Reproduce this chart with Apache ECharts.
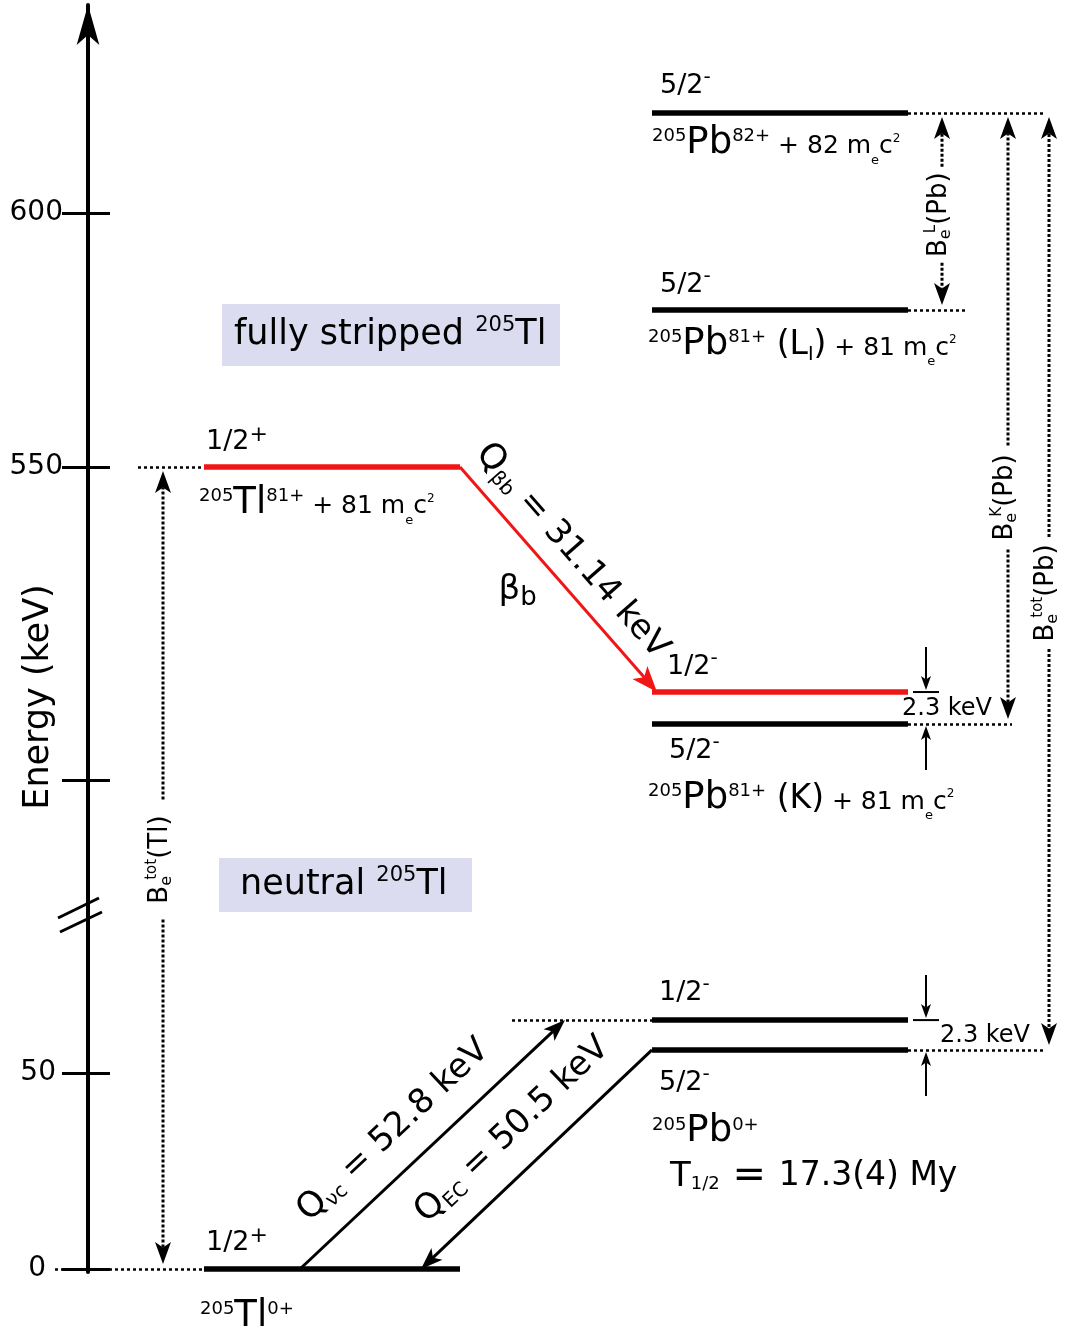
<!DOCTYPE html>
<html lang="en">
<head>
<meta charset="utf-8">
<title>205Tl bound-state beta decay level scheme</title>
<script src="https://cdn.jsdelivr.net/npm/echarts@6/dist/echarts.min.js"></script>
<style>
  html, body { margin: 0; padding: 0; background: #ffffff; }
  #chart { width: 1070px; height: 1328px; }
</style>
</head>
<body>
<div id="chart"></div>
<script>
// ---------------- data ----------------
// Energy levels, placed on the broken energy axis (keV)
const levelIds      = ['Pb82', 'Pb81L', 'Tl81', 'Pb81K_12', 'Pb81K_52', 'Pb0_12', 'Pb0_52', 'Tl0'];
const levelEnergies = [619.7, 580.9, 550.0, 505.7, 499.4, 63.5, 55.9, 0.0];
const levelSpins    = ['5/2-', '5/2-', '1/2+', '1/2-', '5/2-', '1/2-', '5/2-', '1/2+'];
const levelAxisPart = ['upper', 'upper', 'upper', 'upper', 'upper', 'lower', 'lower', 'lower'];
const levelNuclide  = ['Pb', 'Pb', 'Tl', 'Pb', 'Pb', 'Pb', 'Pb', 'Tl'];
const boundBetaPath = ['Tl81', 'Pb81K_12'];          // bound-state beta decay path

// Ion / atom captions under the levels
const massNumber   = '205';
const ionLevel     = ['Pb82', 'Pb81L', 'Tl81', 'Pb81K_52', 'Pb0_52', 'Tl0'];
const ionElement   = ['Pb', 'Pb', 'Tl', 'Pb', 'Pb', 'Tl'];
const ionCharge    = ['82+', '81+', '81+', '81+', '0+', '0+'];
const ionShell     = ['', 'L', '', 'K', '', ''];
const ionElectrons = [82, 81, 81, 81, 0, 0];        // "+ n m_e c^2" term

// Q values (keV)
const transitionNames = ['βb', 'νc', 'EC'];
const transitionQ     = [31.14, 52.8, 50.5];
const doubletSplitting = 2.3;                        // keV, 1/2- above 5/2-
const halfLife = '17.3(4) My';

// Energy axis ticks (two segments of a broken axis)
const upperTickLabels = [550, 600];
const upperTicks      = [488.4, 550, 600];
const lowerTickLabels = [0, 50];
const lowerTicks      = [0, 50];
const UPPER_RANGE = [461.81, 640.94];
const LOWER_RANGE = [-0.765, 90.31];

// ---------------- layout & style ----------------
const FONT = 'DejaVu Sans';
const INK = '#000000';
const RED = '#f01616';
const PANEL = '#dcdcf0';
const AXIS_LEFT = 88;
const CANVAS_W = 1070;
const UPPER_GRID = { top: 5, height: 910 };
const LOWER_GRID = { top: 915, height: 357 };
const COLUMN = { Tl: [204, 460], Pb: [652, 908] };
const GUIDE = { Pb82: [908, 1045], Pb81L: [908, 965], Tl81: [138, 204], Pb81K_52: [908, 1012],
                Pb0_12: [512, 652], Pb0_52: [908, 1045], Tl0: [55, 204] };
const SPIN_OFFSET = { Pb82: [8, -27], Pb81L: [8, -25], Tl81: [2, -25], Pb81K_12: [15, -25],
                      Pb81K_52: [17, 27], Pb0_12: [7, -27], Pb0_52: [7, 33], Tl0: [2, -26] };
const ION_OFFSET = { Pb82: [0, 30], Pb81L: [-4, 34], Tl81: [-5, 36], Pb81K_52: [-4, 74],
                     Pb0_52: [0, 82], Tl0: [-4, 47] };

const chart = echarts.init(document.getElementById('chart'), null, { renderer: 'canvas' });

const axisRef = part => part === 'upper' ? { xAxisIndex: 0, yAxisIndex: 0 } : { xAxisIndex: 1, yAxisIndex: 2 };
const levelIdx = id => levelIds.indexOf(id);

function levelSeries(part) {
  const data = [];
  levelIds.forEach((id, i) => {
    if (levelAxisPart[i] !== part) return;
    const c = COLUMN[levelNuclide[i]];
    data.push({ name: id, coords: [[c[0], levelEnergies[i]], [c[1], levelEnergies[i]]],
      lineStyle: { color: boundBetaPath.indexOf(id) >= 0 ? RED : INK } });
  });
  return Object.assign({ type: 'lines', coordinateSystem: 'cartesian2d', clip: false, silent: true, z: 4,
    symbol: ['none', 'none'], lineStyle: { width: 5.5, opacity: 1, curveness: 0 }, data }, axisRef(part));
}

function guideSeries(part) {
  const data = [];
  levelIds.forEach((id, i) => {
    if (levelAxisPart[i] !== part || !GUIDE[id]) return;
    data.push({ name: id, coords: [[GUIDE[id][0], levelEnergies[i]], [GUIDE[id][1], levelEnergies[i]]] });
  });
  return Object.assign({ type: 'lines', coordinateSystem: 'cartesian2d', clip: false, silent: true, z: 3,
    symbol: ['none', 'none'], lineStyle: { color: INK, width: 2.5, type: [3, 3], opacity: 1, curveness: 0 }, data }, axisRef(part));
}

function yMain(grid, range, ticks, labels, arrow, margin) {
  return {
    gridIndex: grid, type: 'value', position: 'left', min: range[0], max: range[1],
    axisLine: { show: true, onZero: false, lineStyle: { color: INK, width: 4 },
      symbol: arrow ? ['none', 'arrow'] : ['none', 'none'], symbolSize: [17, 40] },
    axisTick: { show: true, inside: false, length: 26, lineStyle: { color: INK, width: 3 }, customValues: ticks },
    axisLabel: {
      show: true, customValues: labels, margin: margin,
      formatter: v => (v === 0 ? '{o|0}' : '{n|' + v + '}'),
      rich: {
        o: { fontFamily: FONT, fontSize: 28, color: INK, padding: [0, 10, 0, 0] },
        n: { fontFamily: FONT, fontSize: 28, color: INK }
      }
    },
    splitLine: { show: false }
  };
}
function yInner(grid, range, ticks) {
  return {
    gridIndex: grid, type: 'value', position: 'left', min: range[0], max: range[1],
    axisLine: { show: false, onZero: false },
    axisTick: { show: true, inside: true, length: 22, lineStyle: { color: INK, width: 3 }, customValues: ticks },
    axisLabel: { show: false }, splitLine: { show: false }
  };
}

chart.setOption({
  animation: false,
  backgroundColor: '#ffffff',
  grid: [
    { left: AXIS_LEFT, right: 0, top: UPPER_GRID.top, height: UPPER_GRID.height, containLabel: false, outerBoundsMode: 'none' },
    { left: AXIS_LEFT, right: 0, top: LOWER_GRID.top, height: LOWER_GRID.height, containLabel: false, outerBoundsMode: 'none' }
  ],
  xAxis: [0, 1].map(g => ({ gridIndex: g, type: 'value', min: AXIS_LEFT, max: CANVAS_W, show: false })),
  yAxis: [
    yMain(0, UPPER_RANGE, upperTicks, upperTickLabels, true, 25),
    yInner(0, UPPER_RANGE, upperTicks),
    yMain(1, LOWER_RANGE, lowerTicks, lowerTickLabels, false, 32),
    yInner(1, LOWER_RANGE, lowerTicks)
  ],
  series: [levelSeries('upper'), levelSeries('lower'), guideSeries('upper'), guideSeries('lower')]
});

// ---------------- annotations placed through the axis scales ----------------
const px = (part, x, e) => chart.convertToPixel(axisRef(part), [x, e]);
function levelPoint(id, side, dx) {
  const i = levelIdx(id), c = COLUMN[levelNuclide[i]];
  return px(levelAxisPart[i], c[side] + (dx || 0), levelEnergies[i]);
}
function energyPoint(id, x) {
  const i = levelIdx(id);
  return px(levelAxisPart[i], x, levelEnergies[i]);
}

const els = [];
function line(a, b, stroke, width, dash) {
  els.push({ type: 'line', silent: true, z: 5,
    shape: { x1: a[0], y1: a[1], x2: b[0], y2: b[1] },
    style: { stroke, lineWidth: width, lineDash: dash || null, lineCap: 'butt' } });
}
function arrow(from, tip, color, width, headLen, headHalf, dash) {
  const dx = tip[0] - from[0], dy = tip[1] - from[1], d = Math.hypot(dx, dy);
  const ux = dx / d, uy = dy / d;
  const notch = [tip[0] - ux * headLen * 0.75, tip[1] - uy * headLen * 0.75];
  const back = [tip[0] - ux * headLen, tip[1] - uy * headLen];
  line(from, notch, color, width, dash);
  els.push({ type: 'polygon', silent: true, z: 6,
    shape: { points: [tip, [back[0] - uy * headHalf, back[1] + ux * headHalf], notch,
                      [back[0] + uy * headHalf, back[1] - ux * headHalf]] },
    style: { fill: color } });
}
// Rich text: parts = [text, fontSize, shift(px, + = down), tokenWidth?]
function label(x, y, parts, opt) {
  opt = opt || {};
  const L = Math.round(Math.max.apply(null, parts.map(p => p[1])) * 1.4);
  const rich = {};
  let str = '';
  parts.forEach((p, i) => {
    const st = { fontFamily: FONT, fontSize: p[1], fill: opt.color || INK, lineHeight: L, align: 'left' };
    if (p[2] > 0) { st.height = L - 2 * p[2]; st.verticalAlign = 'bottom'; }
    else if (p[2] < 0) { st.height = L + 2 * p[2]; st.verticalAlign = 'top'; }
    else { st.verticalAlign = 'middle'; }
    if (p[3] != null) st.width = p[3];
    rich['p' + i] = st;
    str += '{p' + i + '|' + p[0] + '}';
  });
  els.push({ type: 'text', x, y, rotation: opt.rotation || 0, silent: true, z: 7,
    style: { text: str, rich, fontFamily: FONT, fontSize: parts[0][1], fill: opt.color || INK,
             align: opt.align || 'left', verticalAlign: 'middle' } });
}
function alongLabel(a, b, along, perp, parts, opt) {
  const dx = b[0] - a[0], dy = b[1] - a[1], d = Math.hypot(dx, dy), ux = dx / d, uy = dy / d;
  const r = -Math.atan2(uy, ux);
  const upx = -Math.sin(r), upy = -Math.cos(r);
  label(a[0] + ux * along + upx * perp, a[1] + uy * along + upy * perp, parts,
        Object.assign({ rotation: r, align: 'center' }, opt || {}));
}

// panels
function panel(x, y, w, h, tx, parts) {
  els.push({ type: 'rect', silent: true, z: 1, shape: { x, y, width: w, height: h }, style: { fill: PANEL } });
  label(tx, y + h / 2, parts);
}
panel(222, 304, 338, 62, 234, [['fully stripped ', 35, 0], [massNumber, 21, -9], ['Tl', 35, 0]]);
panel(219, 858, 253, 54, 240, [['neutral ', 35, 0], [massNumber, 21, -9], ['Tl', 35, 0]]);

// axis title and break mark
label(39, 697, [['Energy (keV)', 35, 0]], { rotation: Math.PI / 2, align: 'center' });
const BY = LOWER_GRID.top;
line([AXIS_LEFT - 30, BY + 3], [AXIS_LEFT + 11, BY - 17], INK, 3);
line([AXIS_LEFT - 28, BY + 17], [AXIS_LEFT + 14, BY - 3], INK, 3);

// spin-parity labels
levelIds.forEach((id, i) => {
  const s = levelSpins[i], base = s.slice(0, -1), sign = s.slice(-1);
  const off = SPIN_OFFSET[id];
  const p = levelPoint(id, 0, off[0]);
  label(p[0], p[1] + off[1], [[base, 27, 0], sign === '+' ? ['+', 22, -7] : ['-', 20, -8]]);
});

// ion captions
ionLevel.forEach((id, k) => {
  const parts = [[massNumber, 18, -7], [ionElement[k], 37, 0], [ionCharge[k], 18, -7]];
  if (ionShell[k] === 'L') parts.push([' (L', 33, 1.4], ['I', 19, 11], [')', 33, 1.4]);
  if (ionShell[k] === 'K') parts.push([' (K)', 33, 1.4]);
  if (ionElectrons[k] > 0) {
    parts.push([' + ' + ionElectrons[k] + ' m', 25, 4], ['e', 13, 18], ['c', 25, 4], ['2', 12, -4]);
  }
  const off = ION_OFFSET[id];
  const p = levelPoint(id, 0, off[0]);
  label(p[0], p[1] + off[1], parts);
});
{
  const p = levelPoint('Pb0_52', 0, 18);
  label(p[0], p[1] + 127, [['T', 34, 0], ['1/2', 18, 7], [' = ', 40, 0], [halfLife, 33, 0]]);
}

// transitions
const bbFrom = levelPoint('Tl81', 1, 0), bbTo = levelPoint('Pb81K_12', 0, 5);
arrow(bbFrom, bbTo, RED, 3, 26, 10);
alongLabel(bbFrom, bbTo, 137, 29, [['Q', 35, 0], [transitionNames[0], 20, 9], [' = ' + transitionQ[0] + ' keV', 34, 0]]);
{
  // "βb" sits on the lower-left side of the decay arrow
  const dx = bbTo[0] - bbFrom[0], dy = bbTo[1] - bbFrom[1], d = Math.hypot(dx, dy);
  const ux = dx / d, uy = dy / d;
  label(bbFrom[0] + ux * 131 - uy * 38, bbFrom[1] + uy * 131 + ux * 38, [['β', 34, 0], ['b', 26, 8]], { align: 'center' });
}
const ncFrom = energyPoint('Tl0', 300), ncTo = energyPoint('Pb0_12', 565);
arrow(ncFrom, ncTo, INK, 3, 22, 8);
alongLabel(ncFrom, ncTo, 163, 37, [['Q', 35, 0], [transitionNames[1], 20, 9], [' = ' + transitionQ[1] + ' keV', 34, 0]]);
const ecFrom = levelPoint('Pb0_52', 0, 0), ecTo = energyPoint('Tl0', 421);
arrow(ecFrom, ecTo, INK, 3, 22, 8);
alongLabel(ecTo, ecFrom, 162, 38, [['Q', 35, 0], [transitionNames[2], 20, 9], [' = ' + transitionQ[2] + ' keV', 34, 0]]);

// 2.3 keV doublet markers
function doubletMarker(upId, lowId, textDx) {
  const a = levelPoint(upId, 1, 18), b = levelPoint(lowId, 1, 18);
  arrow([a[0], a[1] - 45], [a[0], a[1] - 2], INK, 2, 14, 5);
  line([a[0] - 13, a[1]], [a[0] + 13, a[1]], INK, 2);
  arrow([b[0], b[1] + 46], [b[0], b[1] + 2], INK, 2, 14, 5);
  const t = levelPoint(upId, 1, textDx);
  label(t[0], (a[1] + b[1]) / 2 + 1, [[doubletSplitting + ' keV', 24, 0]]);
}
doubletMarker('Pb81K_12', 'Pb81K_52', -6);
doubletMarker('Pb0_12', 'Pb0_52', 32);

// electron binding energy double arrows
const BINDING = [
  { x: 163,  from: 'Tl81', to: 'Tl0',      frac: 0.49,  half: 60, sup: 'tot', el: 'Tl' },
  { x: 942,  from: 'Pb82', to: 'Pb81L',    frac: 0.52,  half: 48, sup: 'L',   el: 'Pb' },
  { x: 1008, from: 'Pb82', to: 'Pb81K_52', frac: 0.632, half: 52, sup: 'K',   el: 'Pb' },
  { x: 1049, from: 'Pb82', to: 'Pb0_52',   frac: 0.513, half: 56, sup: 'tot', el: 'Pb' }
];
BINDING.forEach(b => {
  const top = energyPoint(b.from, b.x); top[1] += 4;
  const bot = energyPoint(b.to, b.x); bot[1] -= 5;
  const cy = top[1] + b.frac * (bot[1] - top[1]);
  arrow([top[0], cy - b.half], top, INK, 3, 22, 8, [3, 2]);
  arrow([bot[0], cy + b.half], bot, INK, 3, 22, 8, [3, 2]);
  label(top[0] - 3, cy, [['B', 26, 0], ['e', 16, 7, 6], [b.sup, 15, -8], ['(' + b.el + ')', 26, 0]],
        { rotation: Math.PI / 2, align: 'center' });
});

chart.setOption({ graphic: { elements: els } });
</script>
</body>
</html>
